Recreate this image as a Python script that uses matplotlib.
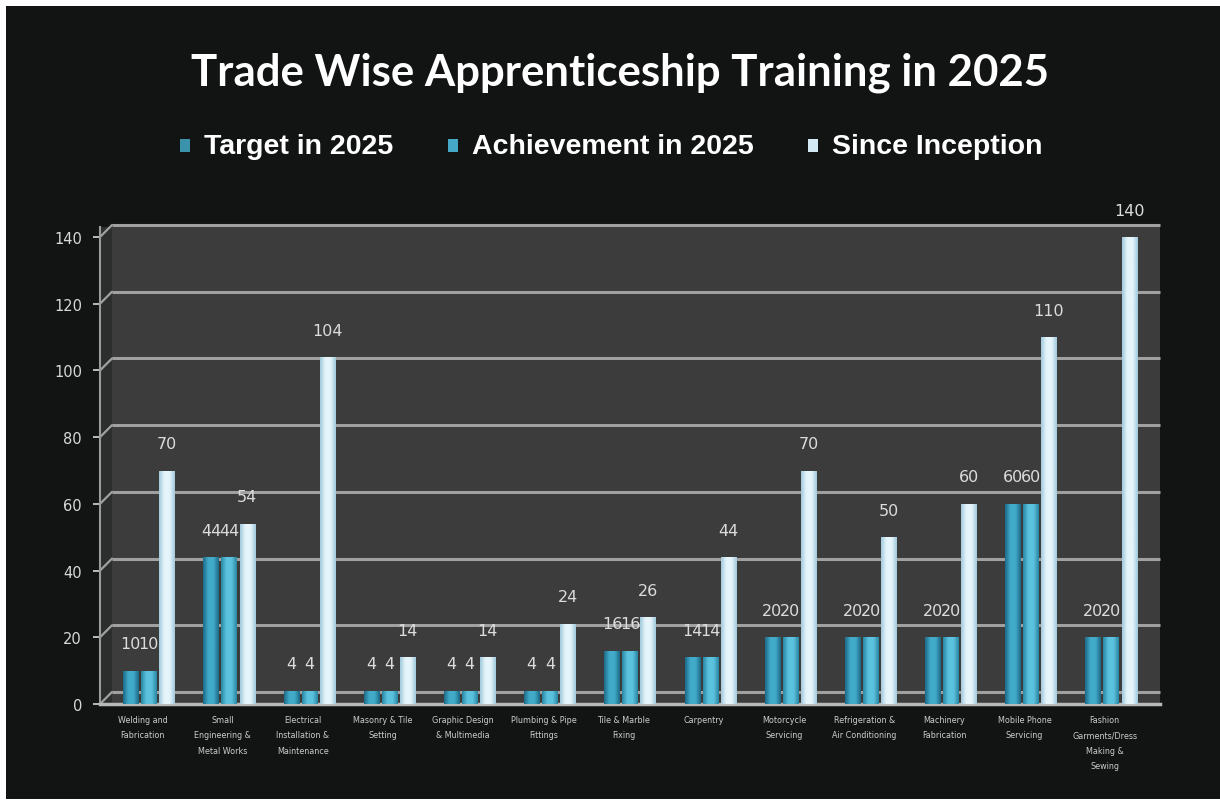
#!/usr/bin/env python3

import numpy as np
import matplotlib.pyplot as plt
from matplotlib.colors import LinearSegmentedColormap
from matplotlib.patches import Rectangle, ConnectionPatch
from matplotlib.transforms import ScaledTranslation

categories = [
    "Welding and\nFabrication",
    "Small\nEngineering &\nMetal Works",
    "Electrical\nInstallation &\nMaintenance",
    "Masonry & Tile\nSetting",
    "Graphic Design\n& Multimedia",
    "Plumbing & Pipe\nFittings",
    "Tile & Marble\nFixing",
    "Carpentry",
    "Motorcycle\nServicing",
    "Refrigeration &\nAir Conditioning",
    "Machinery\nFabrication",
    "Mobile Phone\nServicing",
    "Fashion\nGarments/Dress\nMaking &\nSewing",
]
target_2025 = [10, 44, 4, 4, 4, 4, 16, 14, 20, 20, 20, 60, 20]
achievement_2025 = [10, 44, 4, 4, 4, 4, 16, 14, 20, 20, 20, 60, 20]
since_inception = [70, 54, 104, 14, 14, 24, 26, 44, 70, 50, 60, 110, 140]
series_names = ["Target in 2025", "Achievement in 2025", "Since Inception"]
y_ticks = [0, 20, 40, 60, 80, 100, 120, 140]

BG = "#121413"
PANEL = "#3c3c3c"
SIDE_WALL = "#2c2e2e"
GRID = "#a0a0a0"
# (dark edge, highlight) for the cylinder-like shading of each series
SHADES = [("#1c6a86", "#42abca"), ("#2a86a3", "#5cc3df"), ("#9fc9dc", "#e6f5fb")]
LEGEND_COLORS = ["#3a93ab", "#44a8c6", "#d3eaf5"]
DEPTH_PX = 12  # fake 3-D depth of the back wall


def shaded_bar(ax, x, h, w, dark, light):
    """Draw one bar with a horizontal light-to-dark gradient."""
    rect = ax.bar(x, h, width=w, color=light, edgecolor="none", zorder=3)[0]
    cmap = LinearSegmentedColormap.from_list("b", [dark, light, light, dark])
    grad = np.linspace(0, 1, 64).reshape(1, -1)
    im = ax.imshow(grad, cmap=cmap, aspect="auto", extent=(x - w / 2, x + w / 2, 0, h),
                   zorder=4, interpolation="bicubic")
    im.set_clip_path(rect)
    return rect


def main():
    fig = plt.figure(figsize=(12.2, 8.03), dpi=100, facecolor="white")
    fig.patches.append(Rectangle((6 / 1220, 3 / 803), 1 - 6 / 1220, 1 - 10 / 803,
                                 transform=fig.transFigure, facecolor=BG,
                                 edgecolor="none", zorder=-5))

    ax = fig.add_axes([100 / 1220, 98 / 803, 1060 / 1220, 477 / 803])
    ax.set_facecolor(PANEL)

    # side wall strip and back-wall gridlines shifted up/right for depth
    depth = ScaledTranslation(DEPTH_PX / 100, DEPTH_PX / 100, fig.dpi_scale_trans)
    back = ax.get_yaxis_transform() + depth
    ax.add_patch(Rectangle((0, 0), DEPTH_PX / 1060, 1, transform=ax.transAxes,
                           facecolor=SIDE_WALL, edgecolor="none", zorder=0.5))
    for v in y_ticks:
        ax.plot([0, 1 - DEPTH_PX / 1060], [v, v], transform=back, color=GRID,
                linewidth=2.2, zorder=1, clip_on=False, solid_capstyle="butt")
        ax.add_artist(ConnectionPatch((0, v), (0, v), coordsA=ax.get_yaxis_transform(),
                                      coordsB=back, color=GRID, linewidth=1.6, zorder=1))

    x = np.arange(len(categories))
    width = 0.19
    offsets = [-0.225, 0.0, 0.225]
    all_series = [target_2025, achievement_2025, since_inception]

    for s, (vals, off) in enumerate(zip(all_series, offsets)):
        dark, light = SHADES[s]
        for xi, v in zip(x, vals):
            shaded_bar(ax, xi + off, v, width, dark, light)
            ax.annotate(str(v), (xi + off, v), xytext=(0, 14), textcoords="offset points",
                        ha="center", va="bottom", color="#dcdcdc", fontsize=11.5,
                        family="DejaVu Sans", zorder=6, annotation_clip=False)

    ax.set_xlim(-0.61, len(categories) - 1 + 0.61)
    ax.set_ylim(0, 143)
    ax.set_yticks(y_ticks)
    ax.tick_params(axis="y", colors="#d8d8d8", labelsize=10.5, length=5, width=1.2,
                   pad=8)
    ax.set_xticks(x - 0.08)
    ax.set_xticklabels(categories, fontsize=5.8, color="#cccccc", linespacing=1.9)
    ax.tick_params(axis="x", length=0, pad=8)

    for side in ["top", "right"]:
        ax.spines[side].set_visible(False)
    ax.spines["left"].set_color("#9a9a9a")
    ax.spines["left"].set_linewidth(1.5)
    ax.spines["bottom"].set_color("#b8b8b8")
    ax.spines["bottom"].set_linewidth(2.5)

    fig.text(0.508, 0.909, "Trade Wise Apprenticeship Training in 2025", ha="center",
             va="center", color="white", fontsize=31.5, fontweight="bold", family="Lato")

    # legend row
    legend_x = [180, 448, 808]
    for name, color, lx in zip(series_names, LEGEND_COLORS, legend_x):
        fig.patches.append(Rectangle((lx / 1220, (803 - 153) / 803), 10 / 1220, 13 / 803,
                                     transform=fig.transFigure, facecolor=color,
                                     edgecolor="none", zorder=2))
        fig.text((lx + 24) / 1220, (803 - 147) / 803, name, ha="left", va="center",
                 color="white", fontsize=20.5, fontweight="bold", family="Liberation Sans")

    plt.savefig("out.png", dpi=100, facecolor=fig.get_facecolor())


if __name__ == "__main__":
    main()
